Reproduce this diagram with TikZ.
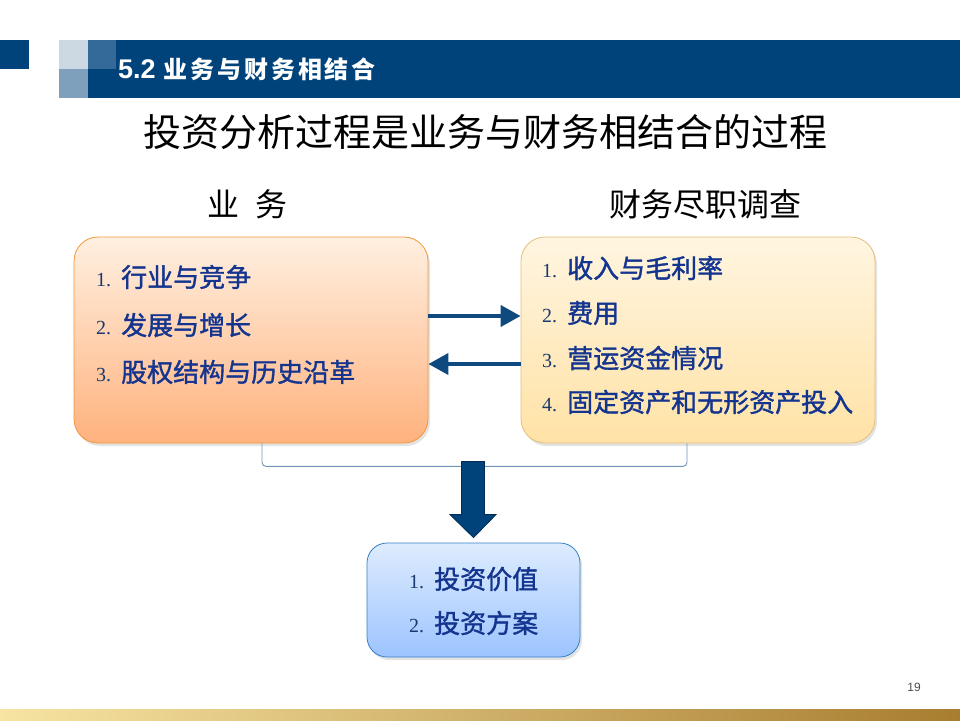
\documentclass[tikz,border=0pt]{standalone}
\usepackage{fontspec}
\setmainfont{Noto Sans CJK SC}
\newfontfamily\numfont{Liberation Serif}
\newfontfamily\latinfont{Liberation Sans}
\newfontfamily\itemfont{Noto Sans CJK SC}[FakeBold=1.4]
\usetikzlibrary{arrows.meta,positioning,shadows,calc}
\definecolor{navy}{HTML}{00427A}
\definecolor{sqlight}{HTML}{CCD9E3}
\definecolor{sqmid}{HTML}{336A99}
\definecolor{sqlow}{HTML}{7FA0BD}
\definecolor{itemblue}{HTML}{14358F}
\definecolor{numblue}{HTML}{183A6E}
\definecolor{flowblue}{HTML}{0E4A7E}
\definecolor{bracecol}{HTML}{7094B8}
\newcommand\numitem[2]{\makebox[25pt][l]{\color{numblue}\fontsize{20}{20}\numfont #1.}#2}

\begin{document}
\begin{tikzpicture}[
        x=1pt, y=-1pt,
        every node/.style={inner sep=0pt},
        card/.style={rounded corners=24pt, line width=0.8pt,
            drop shadow={opacity=0.22, shadow xshift=2pt, shadow yshift=-3pt}},
        item/.style={anchor=west, text=itemblue, font=\itemfont\fontsize{26}{30}\selectfont},
        head/.style={font=\fontsize{32}{36}\selectfont},
        flow/.style={-{Triangle[length=20pt,width=21pt]}, line width=4pt, draw=flowblue},
        brace/.style={draw=bracecol, line width=0.9pt, rounded corners=4pt},
        bigarrow/.style={fill=navy, draw=navy!70!black, line width=0.8pt}
    ]
    \useasboundingbox (0,0) rectangle (960,720);

    % ---------------- kopfzeile ----------------
    \fill[navy] (0,40) rectangle (29,69);
    \fill[sqlight] (59,40) rectangle (88,69);
    \fill[sqmid] (88,40) rectangle (116,69);
    \fill[sqlow] (59,69) rectangle (88,98);
    \fill[navy] (116,40) rectangle (960,98);
    \fill[navy] (88,69) rectangle (116,98);
    \node[anchor=west, text=white] (hdr) at (118,69)
    {{\latinfont\bfseries\fontsize{27}{28}\selectfont 5.2}\hspace{8pt}%
        {\bfseries\fontsize{24}{26}\selectfont\addfontfeature{LetterSpace=12}业务与财务相结合}};

    \node[font=\fontsize{38}{40}\selectfont] (title) at (485,132)
    {投资分析过程是业务与财务相结合的过程};

    \node[head] (bizlbl) at (247,204) {业\hspace{16pt}务};
    \node[head] (finlbl) at (705,204) {财务尽职调查};

    % ---------------- kaesten ----------------
    \node[card, minimum width=354pt, minimum height=206pt,
        top color=orange!12!white, bottom color={rgb,255:red,255;green,178;blue,126},
        draw={rgb,255:red,242;green,150;blue,60}] (biz) at (251,340) {};
    \node[card, minimum width=354pt, minimum height=206pt,
        top color={rgb,255:red,255;green,245;blue,224}, bottom color={rgb,255:red,255;green,226;blue,166},
        draw={rgb,255:red,228;green,190;blue,122}] (fin) at (698,340) {};
    \node[card, rounded corners=20pt, minimum width=213pt, minimum height=114pt,
        top color={rgb,255:red,222;green,236;blue,254}, bottom color={rgb,255:red,156;green,196;blue,255},
        draw={rgb,255:red,52;green,128;blue,200}] (res) at (473.5,600) {};

    \node[item] (b1) at (96,277) {\numitem{1}{行业与竞争}};
    \node[item] (b2) at (96,325) {\numitem{2}{发展与增长}};
    \node[item] (b3) at (96,372) {\numitem{3}{股权结构与历史沿革}};

    \node[item] (f1) at (542,268) {\numitem{1}{收入与毛利率}};
    \node[item] (f2) at (542,313) {\numitem{2}{费用}};
    \node[item] (f3) at (542,358) {\numitem{3}{营运资金情况}};
    \node[item] (f4) at (542,402) {\numitem{4}{固定资产和无形资产投入}};

    \node[item] (r1) at (409,579) {\numitem{1}{投资价值}};
    \node[item] (r2) at (409,623) {\numitem{2}{投资方案}};

    % ---------------- verbindungen ----------------
    \draw[flow] ([yshift=24pt]biz.east) -- ([yshift=24pt]fin.west);
    \draw[flow] ([yshift=-24pt]fin.west) -- ([yshift=-24pt]biz.east);

    \draw[brace] ([xshift=11pt]biz.south) -- ++(0,23) -| ([xshift=-11pt]fin.south);

    \draw[bigarrow] ([yshift=5pt]res.north) -- ++(-23.5,-23) -- ++(11.5,0) -- ++(0,-53)
    -- ++(23,0) -- ++(0,53) -- ++(11.5,0) -- cycle;

    % ---------------- fusszeile ----------------
    \node[text=black!70, font=\latinfont\fontsize{12}{12}\selectfont] (pgno) at (914,687) {19};
    \shade[left color={rgb,255:red,247;green,228;blue,162}, right color={rgb,255:red,168;green,125;blue,48}]
    (0,709) rectangle (960,720);
\end{tikzpicture}
\end{document}
